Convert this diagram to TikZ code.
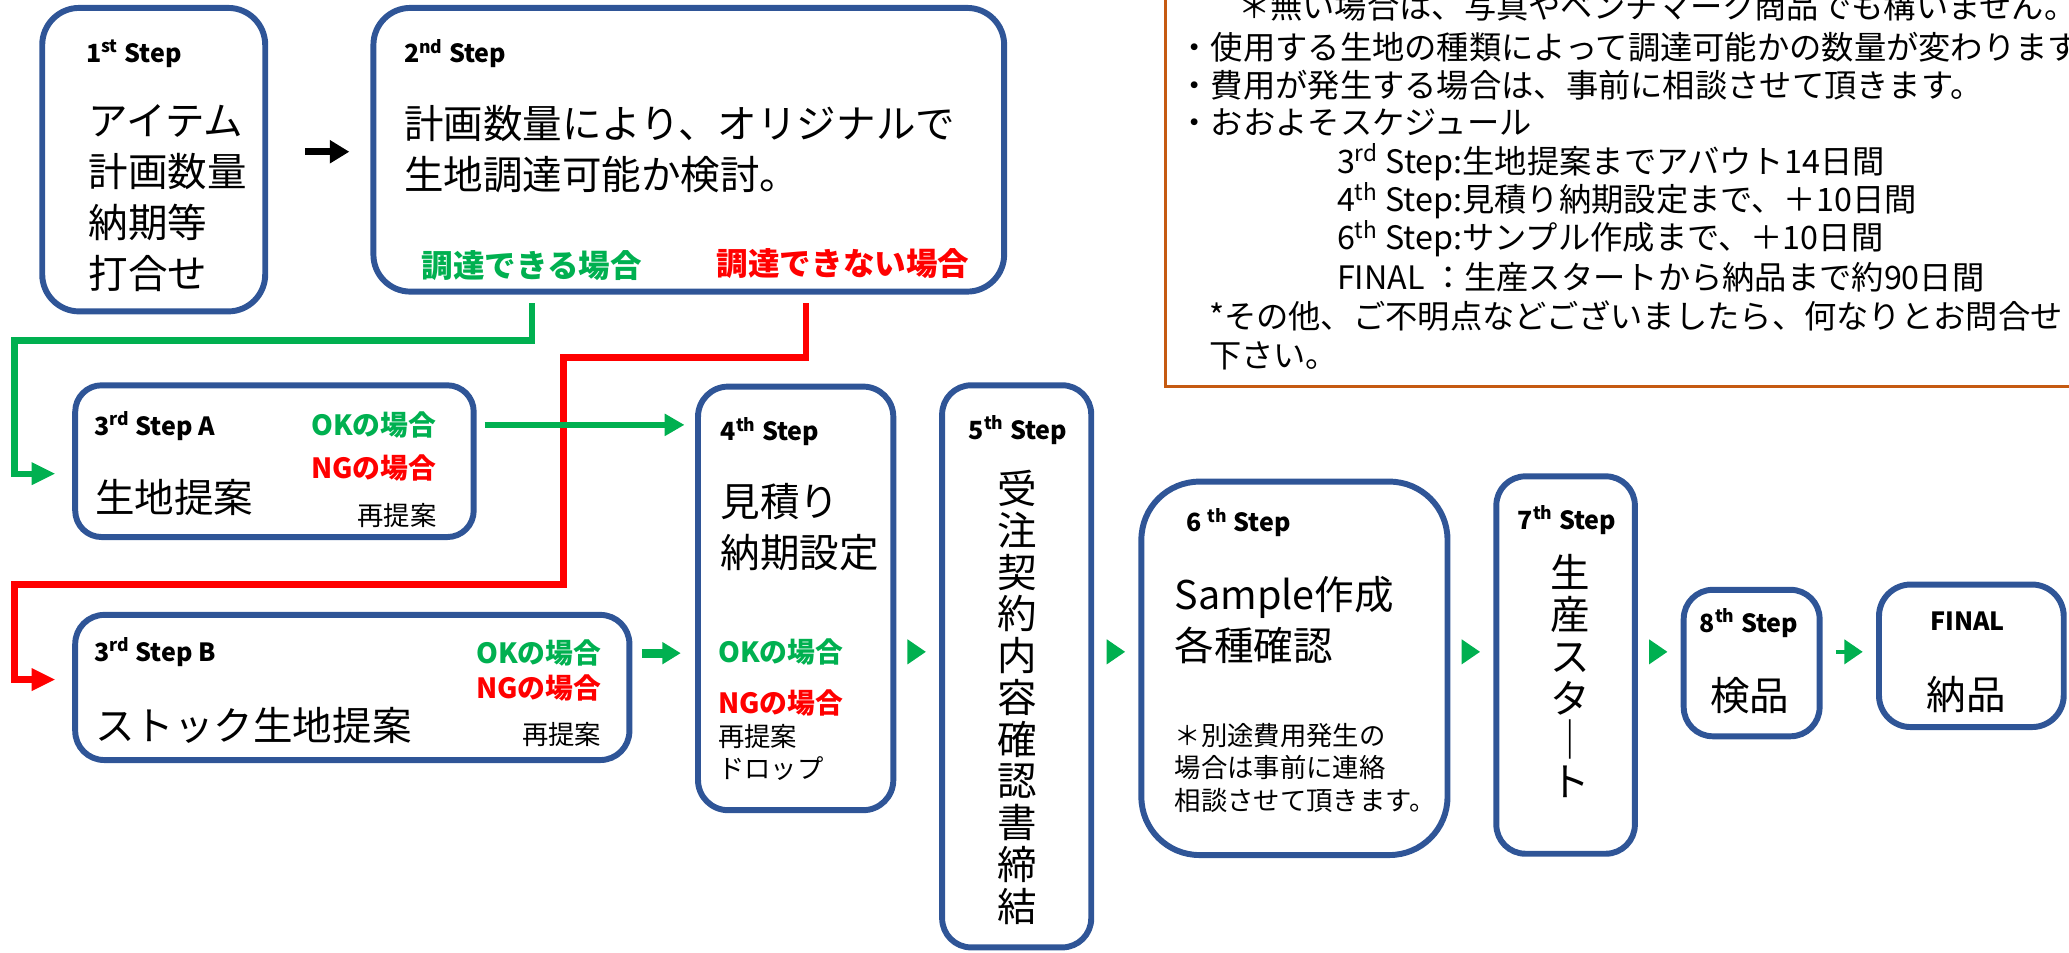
\documentclass[tikz,border=0pt]{standalone}
\usepackage{fontspec}
\setmainfont{Noto Sans CJK JP}
\usetikzlibrary{arrows.meta,fit}

\definecolor{boxblue}{RGB}{47,85,151}
\definecolor{okgreen}{RGB}{0,176,80}
\definecolor{ngred}{RGB}{255,0,0}
\definecolor{noteorange}{RGB}{197,90,17}

\newcommand{\bigjp}{\fontsize{21.3}{27.5}\selectfont}
\newcommand{\vertjp}{\fontsize{21.3}{22.5}\selectfont}
\newcommand{\notejp}{\fontsize{17.4}{20.6}\selectfont}
\newcommand{\smalljp}{\fontsize{14.2}{17.4}\selectfont}
\newcommand{\titlefont}{\fontsize{13.5}{16}\selectfont\bfseries}
\newcommand{\casefont}{\fontsize{15}{18}\selectfont\bfseries}
\newcommand{\branchfont}{\fontsize{17}{20}\selectfont\bfseries}

\tikzset{
  stepbox/.style={draw=boxblue, line width=3.2pt, inner sep=0pt},
  steptitle/.style={font=\titlefont, anchor=west, inner sep=0pt},
  bodytxt/.style={font=\bigjp, align=left, anchor=west, inner sep=0pt},
  verttxt/.style={font=\vertjp, align=center, inner sep=0pt},
  smalltxt/.style={font=\smalljp, align=left, inner sep=0pt},
  okcase/.style={font=\casefont, text=okgreen, inner sep=0pt},
  ngcase/.style={font=\casefont, text=ngred, inner sep=0pt},
  notetxt/.style={font=\notejp, anchor=west, inner sep=0pt},
  okline/.style={draw=okgreen, line width=3.4pt, -{Triangle[length=0.45cm,width=0.4cm]}},
  ngline/.style={draw=ngred, line width=3.4pt, -{Triangle[length=0.45cm,width=0.4cm]}},
  okarrow/.style={draw=okgreen, line width=3.6pt, -{Triangle[length=0.375cm,width=0.4cm]}},
  okblock/.style={draw=okgreen, line width=5pt, -{Triangle[length=0.35cm,width=0.4cm]}},
  okstep/.style={draw=okgreen, line width=2.5pt, -{Triangle[length=0.35cm,width=0.45cm]}},
  nextarrow/.style={draw=black, line width=4pt, -{Triangle[length=0.37cm,width=0.42cm]}}
}

\begin{document}
\begin{tikzpicture}[x=0.025cm,y=-0.025cm]
  \useasboundingbox (0,0) rectangle (1568,722);
  \clip (0,0) rectangle (1568,722);

  % notes
  \draw[noteorange, line width=1.6pt] (883,-20) rectangle (1600,293);
  \node[notetxt] (n0) at (938,5) {＊無い場合は、写真やベンチマーク商品でも構いません。};
  \node[notetxt] (n1) at (893,35.5) {・使用する生地の種類によって調達可能かの数量が変わります};
  \node[notetxt] (n2) at (893,64.5) {・費用が発生する場合は、事前に相談させて頂きます。};
  \node[notetxt] (n3) at (893,93) {・おおよそスケジュール};
  \node[notetxt] (n4) at (1013,123) {3\textsuperscript{rd} Step:生地提案までアバウト14日間};
  \node[notetxt] (n5) at (1013,152) {4\textsuperscript{th} Step:見積り納期設定まで、＋10日間};
  \node[notetxt] (n6) at (1013,181) {6\textsuperscript{th} Step:サンプル作成まで、＋10日間};
  \node[notetxt] (n7) at (1013,210) {FINAL ：生産スタートから納品まで約90日間};
  \node[notetxt] (n8) at (916,239.5) {*その他、ご不明点などございましたら、何なりとお問合せ};
  \node[notetxt] (n9) at (916,269.5) {下さい。};

  % step boxes
  \node[stepbox, rounded corners=0.7cm, fit={(32,6) (201,236)}] (s1) {};
  \node[stepbox, rounded corners=0.7cm, fit={(283,6) (761,221)}] (s2) {};
  \node[stepbox, rounded corners=0.5cm, fit={(57,292) (359,407)}] (s3a) {};
  \node[stepbox, rounded corners=0.55cm, fit={(57,466) (477,576)}] (s3b) {};
  \node[stepbox, rounded corners=0.57cm, fit={(529,293) (677,614)}] (s4) {};
  \node[stepbox, rounded corners=0.55cm, fit={(714,292) (827,718)}] (s5) {};
  \node[stepbox, rounded corners=1.1cm, fit={(865,365) (1097,648)}] (s6) {};
  \node[stepbox, rounded corners=0.55cm, fit={(1134,361) (1239,647)}] (s7) {};
  \node[stepbox, rounded corners=0.55cm, fit={(1276,447) (1379,558)}] (s8) {};
  \node[stepbox, rounded corners=0.6cm, fit={(1424,443) (1564,551)}] (sF) {};

  % 1st, 2nd
  \node[steptitle] (t1) at (65,40.5) {1\textsuperscript{st} Step};
  \node[bodytxt] (b1) at (67,150) {アイテム\\計画数量\\納期等\\打合せ};
  \node[steptitle] (t2) at (306,40.5) {2\textsuperscript{nd} Step};
  \node[bodytxt] (b2) at (306,113) {計画数量により、オリジナルで\\生地調達可能か検討。};
  \node[font=\branchfont, text=okgreen, inner sep=0pt] (ok2) at (403,201) {調達できる場合};
  \node[font=\branchfont, text=ngred, inner sep=0pt, anchor=west] (ng2) at (543,200) {調達できない場合};

  % 3rd A, B
  \node[steptitle] (t3a) at (71,323) {3\textsuperscript{rd} Step A};
  \node[okcase, anchor=east] (ok3a) at (331,322) {OKの場合};
  \node[ngcase, anchor=east] (ng3a) at (331,355) {NGの場合};
  \node[bodytxt] (b3a) at (72,377) {生地提案};
  \node[smalltxt, anchor=east] (r3a) at (331,391) {再提案};
  \node[steptitle] (t3b) at (71,494) {3\textsuperscript{rd} Step B};
  \node[okcase, anchor=east] (ok3b) at (456,495) {OKの場合};
  \node[ngcase, anchor=east] (ng3b) at (456,521.5) {NGの場合};
  \node[bodytxt] (b3b) at (72,549.5) {ストック生地提案};
  \node[smalltxt, anchor=east] (r3b) at (456,557) {再提案};

  % 4th, 5th
  \node[steptitle] (t4) at (546,327) {4\textsuperscript{th} Step};
  \node[bodytxt] (b4) at (546,399.5) {見積り\\納期設定};
  \node[okcase, anchor=west] (ok4) at (544,494) {OKの場合};
  \node[ngcase, anchor=west] (ng4) at (544,533) {NGの場合};
  \node[smalltxt, anchor=west] (r4) at (544,570) {再提案\\ドロップ};
  \node[steptitle] (t5) at (734,326) {5\textsuperscript{th} Step};
  \node[verttxt] (b5) at (771,528.5) {受\\注\\契\\約\\内\\容\\確\\認\\書\\締\\結};

  % 6th, 7th, 8th, final
  \node[steptitle] (t6) at (899,396) {6 \textsuperscript{th} Step};
  \node[bodytxt] (b6) at (890,470) {Sample作成\\各種確認};
  \node[smalltxt, anchor=west] (c6) at (890,582) {＊別途費用発生の\\場合は事前に連絡\\相談させて頂きます。};
  \node[steptitle] (t7) at (1150,394) {7\textsuperscript{th} Step};
  \node[verttxt] (b7) at (1190,512.5) {生\\産\\ス\\タ\\｜\\ト};
  \node[steptitle] (t8) at (1288,472) {8\textsuperscript{th} Step};
  \node[font=\bigjp, inner sep=0pt] (b8) at (1326,527) {検品};
  \node[font=\titlefont, inner sep=0pt] (tF) at (1491,471) {FINAL};
  \node[font=\bigjp, inner sep=0pt] (bF) at (1490,526) {納品};

  % connectors
  \coordinate (okout) at (403,230);
  \coordinate (ngout) at (611,230);
  \coordinate (okin) at (42,359);
  \coordinate (ngin) at (42,515);
  \draw[nextarrow] ([xshift=0.7cm]s1.east |- 0,115) -- ([xshift=-0.4cm]s2.west |- 0,115);
  \draw[ngline] (ngout) |- (427,271) |- (11,443) |- (ngin);
  \draw[okline] (okout) |- (11,258) |- (okin);
  \draw[okarrow] ([xshift=0.15cm]s3a.east |- ok3a) -- ([xshift=-0.2cm]s4.west |- ok3a);
  \draw[okblock] ([xshift=0.18cm]s3b.east |- ok3b) -- ([xshift=-0.27cm]s4.west |- ok3b);
  \foreach \a/\b in {s4/s5, s5/s6, s6/s7, s7/s8, s8/sF}
    \draw[okstep] ([xshift=0.25cm]\a.east |- 0,494) -- ([xshift=-0.25cm]\b.west |- 0,494);
\end{tikzpicture}
\end{document}
